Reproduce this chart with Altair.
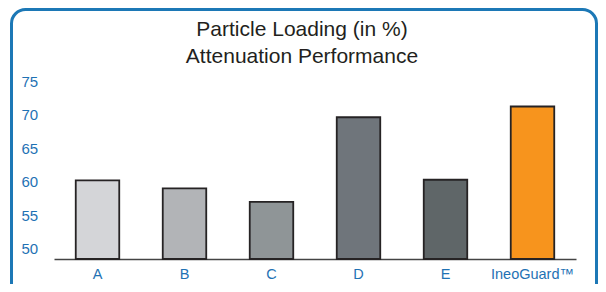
import altair as alt
import pandas as pd

categories = ["A", "B", "C", "D", "E", "IneoGuard™"]
values = [60.2, 59.0, 57.0, 69.6, 60.3, 71.2]
bar_colors = ["#d4d5d8", "#b2b4b7", "#8f9597", "#6f757b", "#5f6668", "#f7941d"]
y_ticks = [50, 55, 60, 65, 70, 75]
title_lines = ["Particle Loading (in %)", "Attenuation Performance"]

df = pd.DataFrame({"cat": categories, "val": values})

FONT = "Liberation Sans"
BLUE = "#1f72b4"

bars = alt.Chart(df).mark_bar(stroke="#262324", strokeWidth=1.8).encode(
    x=alt.X("cat:N", sort=categories,
            scale=alt.Scale(paddingInner=0.5, paddingOuter=0.25),
            axis=alt.Axis(title=None, labelAngle=0, labelFont=FONT, labelFontSize=14.5,
                          labelColor=BLUE, ticks=False, tickSize=0, labelPadding=8,
                          domainColor="#444444", domainWidth=1.6, grid=False)),
    y=alt.Y("val:Q", scale=alt.Scale(domain=[48.5, 75], nice=False, zero=False, clamp=True),
            axis=alt.Axis(title=None, values=y_ticks, labelFont=FONT, labelFontSize=15,
                          labelColor=BLUE, labelAlign="left", ticks=False, tickSize=0,
                          labelPadding=33, domain=False, grid=False)),
    y2=alt.datum(48.5),
    color=alt.Color("cat:N", sort=categories,
                    scale=alt.Scale(domain=categories, range=bar_colors), legend=None),
)

one = alt.Data(values=[{"k": 1}])

frame = alt.Chart(one).mark_rect(
    filled=False, stroke="#1c78b6", strokeWidth=3, cornerRadius=14
).encode(x=alt.value(-42.5), x2=alt.value(542.5), y=alt.value(-71.5), y2=alt.value(230))

t1 = alt.Chart(one).mark_text(
    text=title_lines[0], font=FONT, fontSize=21, color="#231f20", baseline="alphabetic", align="center"
).encode(x=alt.value(248), y=alt.value(-45))
t2 = alt.Chart(one).mark_text(
    text=title_lines[1], font=FONT, fontSize=21, color="#231f20", baseline="alphabetic", align="center"
).encode(x=alt.value(248), y=alt.value(-18))

chart = alt.layer(frame, bars, t1, t2).properties(
    width=522, height=178,
    autosize=alt.AutoSizeParams(type="none"),
    padding={"left": 46, "top": 73, "right": 22, "bottom": 25},
).configure_view(stroke=None)

chart.save("out.html", embed_options={"renderer": "svg", "actions": False})
